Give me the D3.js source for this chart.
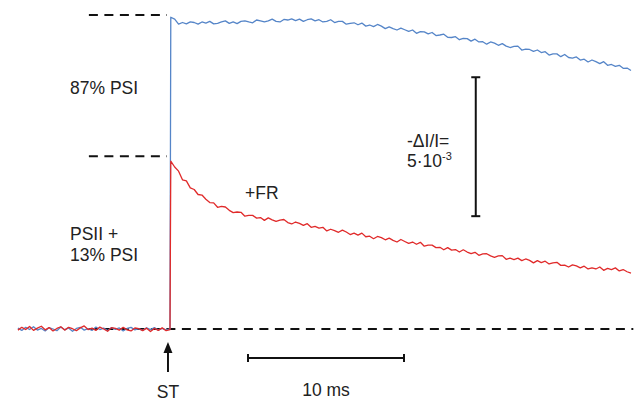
<!DOCTYPE html>
<html><head><meta charset="utf-8">
<script src="https://cdn.jsdelivr.net/npm/d3@7/dist/d3.min.js"></script>
<style>
html,body{margin:0;padding:0;background:#fff;}
text{font-family:"Liberation Sans",Arial,sans-serif;fill:#222;}
</style></head>
<body><svg id="c" width="638" height="404"></svg>
<script>
// time axis (ms); flash at t = 0
const preStart = -9.75, postStart = 0.05, step = 0.25;
// -ΔI/I in units of 10^-3
const bluePre = [0.03,-0.05,0.06,-0.02,0.08,-0.04,0.02,-0.07,0.05,0.00,-0.06,0.07,-0.03,0.04,-0.08,0.02,0.06,-0.04,0.01,-0.05,0.07,-0.02,0.03,-0.06,0.05,-0.01,0.04,-0.07,0.02,0.06,-0.03,0.01,-0.05,0.04,-0.02,0.05,-0.04,0.02,-0.03,0.00];
const redPre = [-0.04,0.06,-0.02,0.09,-0.05,0.03,0.10,-0.03,0.05,-0.07,0.02,0.08,-0.04,0.06,0.01,-0.06,0.04,0.11,-0.02,0.03,-0.05,0.07,0.00,-0.08,0.05,0.02,-0.04,0.06,-0.03,-0.07,0.04,0.01,-0.06,0.03,-0.09,0.02,-0.05,0.04,-0.06,-0.02];
const bluePost = [11.22,11.15,10.97,11.03,10.98,11.05,11.03,10.97,11.05,11.01,11.07,10.98,11.00,11.05,11.09,11.00,11.05,10.99,11.07,11.09,11.05,11.02,11.12,11.09,11.05,11.09,11.15,11.07,11.05,11.14,11.12,11.16,11.10,11.15,11.07,11.13,11.16,11.09,11.13,11.05,11.07,11.13,11.03,11.07,11.07,10.97,11.00,11.02,10.95,11.01,10.90,10.94,10.88,10.96,10.90,10.81,10.87,10.81,10.76,10.83,10.77,10.71,10.76,10.64,10.70,10.69,10.62,10.67,10.56,10.58,10.61,10.50,10.49,10.52,10.41,10.46,10.45,10.36,10.43,10.33,10.34,10.25,10.33,10.29,10.21,10.27,10.18,10.13,10.17,10.18,10.04,10.07,10.06,9.99,10.04,9.95,9.98,9.86,9.90,9.90,9.80,9.88,9.77,9.75,9.79,9.68,9.71,9.61,9.68,9.62,9.55,9.62,9.49,9.52,9.45,9.49,9.38,9.39,9.30];
const redPost = [6.04,5.83,5.68,5.37,5.33,5.08,5.02,4.84,4.82,4.67,4.55,4.54,4.38,4.41,4.39,4.27,4.19,4.21,4.20,4.06,4.09,4.09,3.99,4.01,3.91,4.00,3.93,3.87,3.92,3.94,3.83,3.78,3.85,3.80,3.73,3.79,3.66,3.69,3.63,3.66,3.53,3.59,3.54,3.48,3.56,3.49,3.40,3.45,3.38,3.45,3.32,3.34,3.25,3.33,3.29,3.21,3.27,3.19,3.13,3.22,3.15,3.08,3.13,3.05,3.12,2.98,3.02,3.02,2.93,2.94,2.85,2.93,2.84,2.86,2.77,2.85,2.77,2.71,2.76,2.65,2.70,2.71,2.63,2.58,2.63,2.64,2.51,2.55,2.50,2.55,2.46,2.52,2.47,2.38,2.46,2.39,2.44,2.34,2.38,2.40,2.29,2.30,2.23,2.31,2.27,2.20,2.26,2.16,2.20,2.16,2.23,2.11,2.18,2.14,2.20,2.09,2.14,2.06,2.01];
// reference levels (10^-3): full PSI+PSII amplitude, FR-level, baseline
const levels = [11.3, 6.22, 0];
const levelStart = [-5.2, -5.2, -5.2];
const levelEnd = [-0.2, -0.2, 29.7];
// scale bars
const timeBar = [5.0, 15.0];      // 10 ms
const signalBar = [4.06, 9.06];   // 5·10^-3

const svg = d3.select("#c");
const x = d3.scaleLinear().domain([-10, 30]).range([14, 638]);
const y = d3.scaleLinear().domain([0, 11.3]).range([329, 15]);

const tPre = bluePre.map((d,i)=>preStart + i*step);
const tPost = bluePost.map((d,i)=>postStart + i*step);

// dashed reference lines
levels.forEach((lv,i)=>{
  svg.append("line").attr("x1", x(levelStart[i])).attr("x2", x(levelEnd[i]))
    .attr("y1", y(lv)).attr("y2", y(lv))
    .attr("stroke","#111").attr("stroke-width",2).attr("stroke-dasharray","9,6.5");
});

const line = d3.line().x(d=>x(d[0])).y(d=>y(d[1]));
function trace(pre, post, color){
  const pts = pre.map((v,i)=>[tPre[i], v]).concat(post.map((v,i)=>[tPost[i], v]));
  svg.append("path").datum(pts).attr("d", line).attr("fill","none")
    .attr("stroke", color).attr("stroke-width",1.3).attr("stroke-linejoin","round");
}
trace(bluePre, bluePost, "#5585c8");
trace(redPre, redPost, "#e02a2a");

// vertical scale bar
const sbx = x(19.6);
svg.append("line").attr("x1",sbx).attr("x2",sbx).attr("y1",y(signalBar[0])).attr("y2",y(signalBar[1])).attr("stroke","#111").attr("stroke-width",2);
signalBar.forEach(v=>svg.append("line").attr("x1",sbx-4.5).attr("x2",sbx+4.5).attr("y1",y(v)).attr("y2",y(v)).attr("stroke","#111").attr("stroke-width",2));

// horizontal time bar
const tby = 358;
svg.append("line").attr("x1",x(timeBar[0])).attr("x2",x(timeBar[1])).attr("y1",tby).attr("y2",tby).attr("stroke","#111").attr("stroke-width",2);
timeBar.forEach(t=>svg.append("line").attr("x1",x(t)).attr("x2",x(t)).attr("y1",tby-4).attr("y2",tby+4).attr("stroke","#111").attr("stroke-width",2));

// flash arrow
const ax = x(-0.13);
svg.append("line").attr("x1",ax).attr("x2",ax).attr("y1",372).attr("y2",350).attr("stroke","#111").attr("stroke-width",2);
svg.append("path").attr("d",`M${ax-4.5},${353} L${ax},${342} L${ax+4.5},${353} Z`).attr("fill","#111");

// labels
const fs = 17.5;
function label(tx, ty, s, anchor){ return svg.append("text").attr("x",tx).attr("y",ty).attr("font-size",fs).attr("text-anchor",anchor||"start").text(s); }
label(70, 94, "87% PSI");
label(70, 240, "PSII +");
label(70, 261, "13% PSI");
label(245, 199, "+FR");
label(407, 147, "-ΔI/I=");
const t5 = svg.append("text").attr("x",407).attr("y",167).attr("font-size",fs);
t5.append("tspan").text("5·10");
t5.append("tspan").attr("font-size",11).attr("dy",-7).text("-3");
label(ax, 398, "ST", "middle");
label(x(10), 396, "10 ms", "middle");
</script></body></html>
